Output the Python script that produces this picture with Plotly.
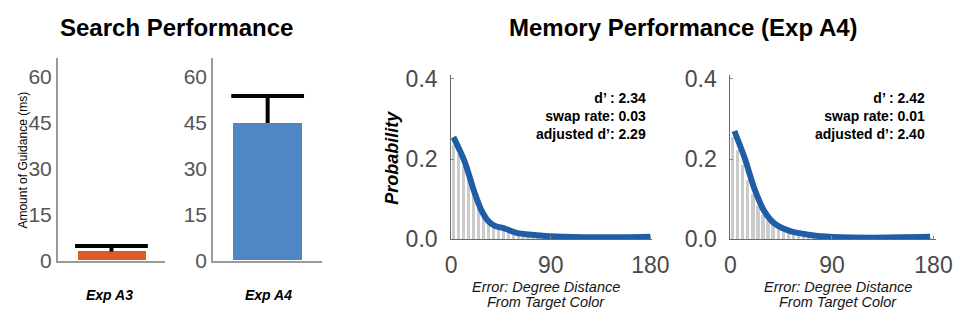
import plotly.graph_objects as go

W, H = 971, 324

# ---- search performance (guidance, ms) ----
exp_labels = ["Exp A3", "Exp A4"]
guidance = [3.0, 44.9]
guidance_err = [1.8, 8.8]
bar_colors = ["#e05a27", "#4f86c4"]
guid_ticks = [0, 15, 30, 45, 60]

# ---- memory performance: error histograms and fitted curves ----
bin_width = 4.5
bin_centers = [bin_width * (i + 0.5) for i in range(40)]
hist_a = [0.235, 0.212, 0.182, 0.150, 0.118, 0.090, 0.067, 0.050, 0.040, 0.033,
          0.029, 0.026, 0.021, 0.017, 0.014, 0.012, 0.010, 0.009, 0.008, 0.007,
          0.006, 0.006, 0.005, 0.005, 0.004, 0.004, 0.004, 0.004, 0.003, 0.003,
          0.003, 0.003, 0.003, 0.003, 0.003, 0.003, 0.003, 0.004, 0.004, 0.004]
hist_b = [0.255, 0.222, 0.186, 0.148, 0.112, 0.083, 0.061, 0.046, 0.036, 0.029,
          0.024, 0.019, 0.016, 0.013, 0.011, 0.009, 0.008, 0.007, 0.006, 0.005,
          0.005, 0.004, 0.004, 0.004, 0.004, 0.003, 0.003, 0.003, 0.003, 0.003,
          0.003, 0.003, 0.003, 0.003, 0.003, 0.003, 0.004, 0.004, 0.004, 0.004]

fit_x_a = [2, 12, 21, 27, 33, 39, 48, 59, 77, 95, 130, 159, 180]
fit_y_a = [0.255, 0.195, 0.117, 0.074, 0.047, 0.034, 0.027, 0.016, 0.010, 0.007, 0.005, 0.005, 0.006]
fit_x_b = [3.5, 12.7, 21.4, 30, 38.7, 53, 67.5, 87.7, 125, 177]
fit_y_b = [0.270, 0.202, 0.125, 0.070, 0.040, 0.020, 0.012, 0.006, 0.004, 0.006]

stats_a = ["d’ : 2.34", "swap rate: 0.03", "adjusted d’: 2.29"]
stats_b = ["d’ : 2.42", "swap rate: 0.01", "adjusted d’: 2.40"]
prob_ticks = [0.0, 0.2, 0.4]
deg_ticks = [0, 90, 180]
error_title = ["Error: Degree Distance", "From Target Color"]

FONT = "Liberation Sans, Arial, Helvetica, sans-serif"
TICK_COLOR = "#4a4a4a"


def px_x(a, b):
    return [a / W, b / W]


def px_y(top, bottom):
    return [(H - bottom) / H, (H - top) / H]


fig = go.Figure()

# guidance bars with one-sided (upper) error bars
for i in range(2):
    n = "" if i == 0 else str(i + 1)
    fig.add_trace(go.Bar(
        x=[0], y=[guidance[i]], width=[1.0],
        marker=dict(color=bar_colors[i], line=dict(width=0)),
        xaxis="x" + n, yaxis="y" + n, showlegend=False,
    ))
    # stem: error bar from the bar top, no caps
    fig.add_trace(go.Scatter(
        x=[0], y=[guidance[i]], mode="markers", marker=dict(size=1, opacity=0),
        error_y=dict(type="data", array=[guidance_err[i]], arrayminus=[0],
                     symmetric=False, color="black", thickness=4, width=0),
        xaxis="x" + n, yaxis="y" + n, showlegend=False, hoverinfo="skip",
    ))
    # cap at the top of the error bar
    fig.add_trace(go.Scatter(
        x=[0], y=[guidance[i] + guidance_err[i]], mode="markers",
        marker=dict(symbol="line-ew", size=52, line=dict(color="black", width=4)),
        xaxis="x" + n, yaxis="y" + n, showlegend=False, hoverinfo="skip",
    ))

# histograms + fitted curves
for j, (hist, fx, fy) in enumerate([(hist_a, fit_x_a, fit_y_a), (hist_b, fit_x_b, fit_y_b)]):
    n = str(j + 3)
    fig.add_trace(go.Bar(
        x=bin_centers, y=hist, width=[bin_width * 0.68] * len(bin_centers),
        marker=dict(color="#cbcbcb", line=dict(width=0)),
        xaxis="x" + n, yaxis="y" + n, showlegend=False,
    ))
    fig.add_trace(go.Scatter(
        x=fx, y=fy, mode="lines", line=dict(color="#1f5ea6", width=6, shape="spline", smoothing=0.8),
        xaxis="x" + n, yaxis="y" + n, showlegend=False,
    ))

bar_x_common = dict(range=[-0.786, 0.786], showticklabels=False, ticks="",
                    showgrid=False, zeroline=False, showline=True,
                    linecolor="#9a9a9a", linewidth=1.5, fixedrange=True)
bar_y_common = dict(range=[0, 66], tickvals=guid_ticks, showgrid=False, zeroline=False,
                    showline=True, linecolor="#9a9a9a", linewidth=1.5, ticks="",
                    tickfont=dict(size=21, color="#555555", family=FONT))

mem_x_common = dict(tickvals=deg_ticks, showgrid=False, zeroline=False, showline=True,
                    linecolor="#6a6a6a", linewidth=1, ticks="inside", ticklen=3,
                    tickcolor="#8a8a8a", ticklabelstandoff=5,
                    tickfont=dict(size=23, color=TICK_COLOR, family=FONT))
mem_y_common = dict(range=[0, 0.41], tickvals=prob_ticks, tickformat=".1f", showgrid=False,
                    zeroline=False, showline=True, linecolor="#6a6a6a", linewidth=1,
                    ticks="inside", ticklen=3, tickcolor="#8a8a8a", ticklabelstandoff=8,
                    tickfont=dict(size=23, color=TICK_COLOR, family=FONT))

fig.update_layout(
    width=W, height=H, margin=dict(l=0, r=0, t=0, b=0),
    paper_bgcolor="white", plot_bgcolor="white",
    font=dict(family=FONT, color="black"),
    xaxis=dict(domain=px_x(53, 163), anchor="y", **bar_x_common),
    yaxis=dict(domain=px_y(53, 270), anchor="x", **bar_y_common),
    xaxis2=dict(domain=px_x(212, 324), anchor="y2", **bar_x_common),
    yaxis2=dict(domain=px_y(53, 270), anchor="x2", **bar_y_common),
    xaxis3=dict(domain=px_x(456, 662), anchor="y3", range=[0, 181.8], **mem_x_common),
    yaxis3=dict(domain=px_y(70.7, 247), anchor="x3", **mem_y_common),
    xaxis4=dict(domain=px_x(742, 953), anchor="y4", range=[0, 182.6], **mem_x_common),
    yaxis4=dict(domain=px_y(70.7, 247), anchor="x4", **mem_y_common),
    bargap=0,
)

ann = []


def add_text(text, x, y, size, bold=False, italic=False, angle=0, xanchor="center",
             yanchor="middle", align="center", color="black"):
    t = text
    if bold:
        t = "<b>" + t + "</b>"
    if italic:
        t = "<i>" + t + "</i>"
    ann.append(dict(text=t, x=x / W, y=(H - y) / H, xref="paper", yref="paper",
                    showarrow=False, textangle=angle, xanchor=xanchor, yanchor=yanchor,
                    align=align, borderpad=0,
                    font=dict(size=size, color=color, family=FONT)))


add_text("Search Performance", 175, 20, 24, bold=True)
add_text("Memory Performance (Exp A4)", 694, 20, 24, bold=True)
add_text("Amount of Guidance (ms)", 17, 162, 12, angle=-90)
add_text(exp_labels[0], 106, 307, 14, bold=True, italic=True)
add_text(exp_labels[1], 269, 307, 14, bold=True, italic=True)
add_text("Probability", 395, 160, 18, bold=True, italic=True, angle=-90)
for cx in (553, 852):
    add_text(error_title[0], cx, 298, 14.5, italic=True, color="#151515")
    add_text(error_title[1], cx, 314, 14.5, italic=True, color="#151515")
add_text("<br>".join(stats_a), 657, 115, 14, bold=True, xanchor="right", align="right")
add_text("<br>".join(stats_b), 942, 115, 14, bold=True, xanchor="right", align="right")

fig.update_layout(annotations=ann)
fig.write_html("out.html")
